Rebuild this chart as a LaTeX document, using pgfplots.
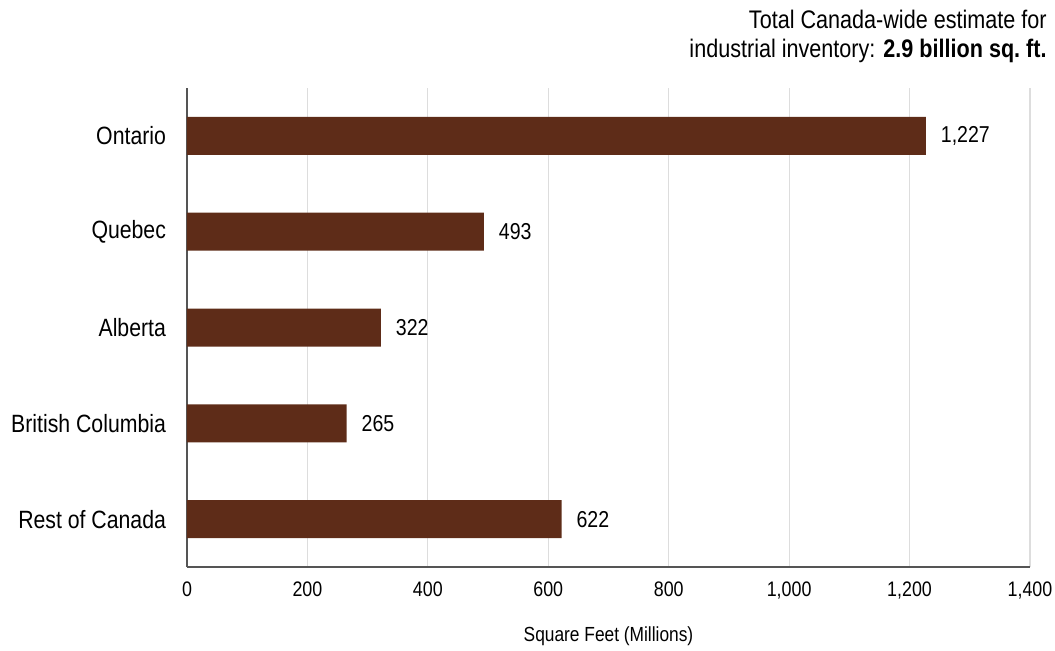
\documentclass[border=0pt]{standalone}
\usepackage{pgfplots}
\pgfplotsset{compat=1.18}
\usepackage{fontspec}
\setmainfont[FakeStretch=0.85]{Liberation Sans}
\definecolor{barbrown}{HTML}{5E2C18}
\definecolor{gridgray}{HTML}{DDDDDD}
\definecolor{axisgray}{HTML}{555555}
\begin{document}
\begin{tikzpicture}
\useasboundingbox (-93.5pt,-41.5pt) rectangle (434pt,283.5pt);
\begin{axis}[
  name=ax,
  at={(0pt,0pt)}, anchor=south west,
  scale only axis,
  width=421.5pt, height=239.5pt,
  xbar, bar width=19pt,
  xmin=0, xmax=1400,
  ymin=-0.5, ymax=4.5,
  xtick={0,200,...,1400},
  ytick={0,1,2,3,4},
  yticklabels={Rest of Canada, British Columbia, Alberta, Quebec, Ontario},
  axis x line*=bottom, axis y line*=left,
  axis line style={axisgray, line width=1pt},
  x axis line style={-}, y axis line style={-},
  major tick length=0pt,
  xmajorgrids, grid style={gridgray, line width=0.6pt},
  /pgf/number format/assume math mode=true,
  /pgf/number format/1000 sep={,},
  xticklabel style={font=\fontsize{10.5}{12}\selectfont, yshift=-4pt},
  yticklabel style={font=\fontsize{12.5}{14}\selectfont, xshift=-7pt},
  xlabel={Square Feet (Millions)},
  xlabel style={font=\fontsize{10.2}{12}\selectfont, at={(axis description cs:0.5,0)}, anchor=center, yshift=-34.5pt},
  nodes near coords,
  nodes near coords style={font=\fontsize{11.5}{13}\selectfont, anchor=west, xshift=4pt, /pgf/number format/1000 sep={,}},
  every node near coord/.append style={text=black},
]
\addplot[fill=barbrown, draw=none] coordinates {
  (622,0) (265,1) (322,2) (493,3) (1227,4)
};
\end{axis}
\node[anchor=base east, font=\fontsize{12.7}{15}\selectfont, inner sep=0pt] at ([xshift=8.5pt, yshift=30pt]ax.north east) {Total Canada-wide estimate for};
\node[anchor=base east, font=\fontsize{12.7}{15}\selectfont, inner sep=0pt] at ([xshift=8.5pt, yshift=15.5pt]ax.north east) {industrial inventory: \textbf{2.9 billion sq.\ ft.}};
\end{tikzpicture}
\end{document}
